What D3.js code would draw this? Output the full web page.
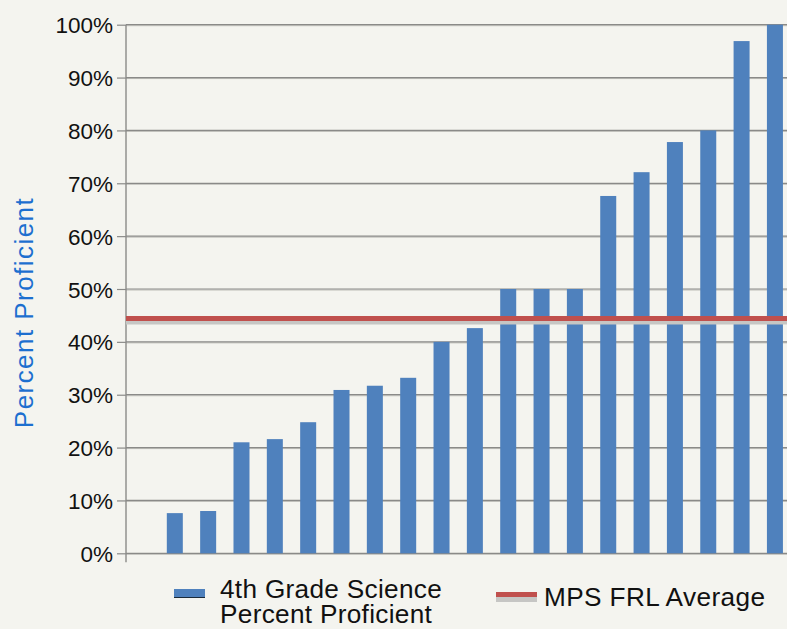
<!DOCTYPE html>
<html>
<head>
<meta charset="utf-8">
<script src="https://cdn.jsdelivr.net/npm/d3@7"></script>
<style>
  html, body { margin: 0; padding: 0; background: #f4f4ef; }
  svg { display: block; }
  text { font-family: "Liberation Sans", Arial, sans-serif; }
</style>
</head>
<body>
<script>
// Schools, ordered by 4th grade science proficiency (first slot has no reported value)
const schools = ["S00", "S01", "S02", "S03", "S04", "S05", "S06", "S07", "S08", "S09",
                 "S10", "S11", "S12", "S13", "S14", "S15", "S16", "S17", "S18", "S19"];
const percentProficient = [null, 7.6, 8.0, 21.0, 21.6, 24.8, 30.9, 31.7, 33.2, 40.0,
                           42.6, 50.0, 50.0, 50.0, 67.6, 72.1, 77.8, 80.0, 96.9, 100.0];
const mpsFrlAverage = 44.4;
const yTicks = [0, 10, 20, 30, 40, 50, 60, 70, 80, 90, 100];
const legendLines = ["4th Grade Science", "Percent Proficient"];
const lineLegendLabel = "MPS FRL Average";
const yAxisTitle = "Percent Proficient";

const W = 787, H = 629;
const plot = { left: 126, top: 24.7, bottom: 553.3 };

const svg = d3.select("body").append("svg")
  .attr("width", W).attr("height", H);

svg.append("rect").attr("width", W).attr("height", H).attr("fill", "#f4f4ef");

const x = d3.scaleBand()
  .domain(schools)
  .range([124.8, 124.8 + 20 * 33.34])
  .paddingInner(0.52)
  .paddingOuter(0.26);

const y = d3.scaleLinear().domain([0, 100]).range([plot.bottom, plot.top]);

// Gridlines (dark line with a light edge underneath)
const grid = svg.append("g");
grid.selectAll("line.gl")
  .data(yTicks)
  .join("line")
  .attr("x1", plot.left).attr("x2", W)
  .attr("y1", d => y(d) + 1).attr("y2", d => y(d) + 1)
  .attr("stroke", "#bdbdb8").attr("stroke-width", 1);
grid.selectAll("line.gd")
  .data(yTicks)
  .join("line")
  .attr("x1", plot.left).attr("x2", W)
  .attr("y1", d => y(d)).attr("y2", d => y(d))
  .attr("stroke", "#8a8a88").attr("stroke-width", 1.2);

// Y axis with tick labels
const yAxis = d3.axisLeft(y)
  .tickValues(yTicks)
  .tickSize(9)
  .tickPadding(4)
  .tickFormat(d => d + "%");
const gy = svg.append("g")
  .attr("transform", `translate(${plot.left},0)`)
  .call(yAxis);
gy.select(".domain").remove();
gy.selectAll(".tick line").attr("stroke", "#8a8a88").attr("stroke-width", 1.2);
gy.selectAll(".tick text")
  .attr("fill", "#111")
  .attr("font-size", "22.5px")
  .attr("font-family", "Liberation Sans, Arial, sans-serif")
  .attr("dy", "0.36em");
svg.append("line")
  .attr("x1", plot.left).attr("x2", plot.left)
  .attr("y1", plot.top).attr("y2", plot.bottom + 9)
  .attr("stroke", "#8a8a88").attr("stroke-width", 1.4);

// Bars
svg.append("g").selectAll("rect")
  .data(schools.map((s, i) => ({ s, v: percentProficient[i] })).filter(d => d.v != null))
  .join("rect")
  .attr("x", d => x(d.s))
  .attr("width", x.bandwidth())
  .attr("y", d => y(d.v))
  .attr("height", d => y(0) - y(d.v))
  .attr("fill", "#4f81bd");

// Average line with its grey shadow
svg.append("line")
  .attr("x1", plot.left).attr("x2", W)
  .attr("y1", y(mpsFrlAverage) + 3.5).attr("y2", y(mpsFrlAverage) + 3.5)
  .attr("stroke", "#c6c6c4").attr("stroke-width", 5);
svg.append("line")
  .attr("x1", plot.left).attr("x2", W)
  .attr("y1", y(mpsFrlAverage)).attr("y2", y(mpsFrlAverage))
  .attr("stroke", "#c0504d").attr("stroke-width", 5);

// Y axis title
svg.append("text")
  .attr("transform", "translate(32.5,312.5) rotate(-90)")
  .attr("text-anchor", "middle")
  .attr("font-size", "26px")
  .attr("letter-spacing", "1.45px")
  .attr("fill", "#1c6fcf")
  .text(yAxisTitle);

// Legend
const lg = svg.append("g");
lg.append("rect").attr("x", 174).attr("y", 589).attr("width", 31).attr("height", 8).attr("fill", "#4f81bd");
lg.append("line").attr("x1", 174).attr("x2", 205).attr("y1", 597.5).attr("y2", 597.5)
  .attr("stroke", "#1a2a3a").attr("stroke-width", 1);
lg.append("text")
  .attr("font-size", "26.2px")
  .attr("letter-spacing", "0.3px")
  .attr("fill", "#111")
  .selectAll("tspan")
  .data(legendLines)
  .join("tspan")
  .attr("x", 220)
  .attr("y", (d, i) => 598.3 + i * 25)
  .text(d => d);

lg.append("rect").attr("x", 496).attr("y", 597).attr("width", 41).attr("height", 5).attr("fill", "#c6c6c4");
lg.append("rect").attr("x", 496).attr("y", 592).attr("width", 41).attr("height", 5).attr("fill", "#c0504d");
lg.append("text")
  .attr("x", 544).attr("y", 605.7)
  .attr("font-size", "26.2px")
  .attr("letter-spacing", "0.4px")
  .attr("fill", "#111")
  .text(lineLegendLabel);
</script>
</body>
</html>
